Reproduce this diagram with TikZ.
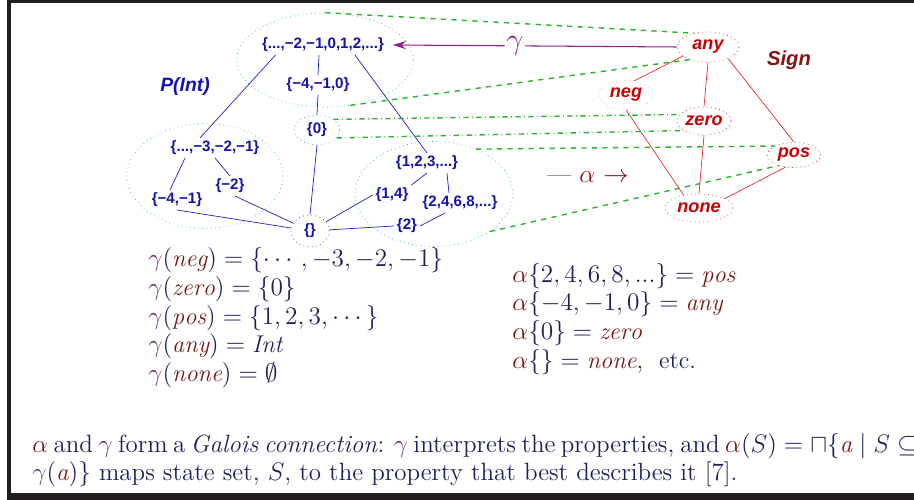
\documentclass[tikz,border=0pt]{standalone}
\usepackage{amsmath}
\usepackage{amssymb}
\usepackage{fontspec}
\newfontfamily\lblfont{Liberation Sans}
\usepackage{xcolor}
\usetikzlibrary{calc, arrows.meta, positioning, shapes.geometric}

\definecolor{setblue}{RGB}{20,20,170}
\definecolor{edgeblue}{RGB}{30,30,205}
\definecolor{regcyan}{RGB}{40,180,185}
\definecolor{gdash}{RGB}{45,180,45}
\definecolor{sgnred}{RGB}{200,0,0}
\definecolor{sgnline}{RGB}{235,40,40}
\definecolor{gpurple}{RGB}{145,30,145}
\definecolor{navy}{RGB}{30,30,95}
\definecolor{prop}{RGB}{120,20,20}
\definecolor{gam}{RGB}{105,45,115}
\definecolor{framec}{RGB}{35,31,32}

\newcommand{\gm}{{\color{gam}\gamma}}
\newcommand{\al}{{\color{prop}\alpha}}
\newcommand{\pr}[1]{{\color{prop}\mathit{#1}}}

\begin{document}
\begin{tikzpicture}[
                  x = 0.02cm, y = -0.02cm,
                  set/.style    = {font=\lblfont\bfseries\fontsize{8.6}{10}\selectfont, text=setblue, inner sep=1.5pt},
                  region/.style = {ellipse, draw=regcyan, dotted, thin, inner sep=0pt},
                  sgn/.style    = {ellipse, draw=sgnline, dotted, thin, inner sep=0pt, text=sgnred,
                                   font=\lblfont\bfseries\itshape\fontsize{10.3}{12}\selectfont},
                  sedge/.style  = {edgeblue, thin},
                  redge/.style  = {sgnline, thin},
                  gl/.style     = {gdash, dashed, thick},
                  gdl/.style    = {gdash, dash dot, thick},
                  garr/.style   = {-{Stealth[length=2.6mm, width=1.6mm]}, gpurple, semithick},
                  eq/.style     = {anchor=base west, inner sep=0pt, text=navy, font=\fontsize{13.8}{16}\selectfont}
            ]
            \useasboundingbox (0,0) rectangle (914,500);
            \clip (0,0) rectangle (914,500);

            % frame
            \fill[framec] (7,0) rectangle (914,3);
            \fill[framec] (7,0) rectangle (11,495);
            \fill[framec] (7,493) rectangle (914,500);

            % regions of P(Int)
            \node[region, minimum width=3.54cm, minimum height=1.88cm] (topreg)   at (325,60)  {};
            \node[region, minimum width=3.12cm, minimum height=2.1cm]  (leftreg)  at (205,176) {};
            \node[region, minimum width=3.16cm, minimum height=2.1cm]  (rightreg) at (434,194) {};

            % sets
            \node[set] (all)   at (323,45)  {\{...,−2,−1,0,1,2,...\}};
            \node[set] (mfz)   at (318,85)  {\{−4,−1,0\}};
            \node[set, region, minimum width=0.9cm, minimum height=0.6cm] (z) at (317,130) {\{0\}};
            \node[set] (negs)  at (215,148) {\{...,−3,−2,−1\}};
            \node[set] (m2)    at (230,186) {\{−2\}};
            \node[set] (m41)   at (177,200) {\{−4,−1\}};
            \node[set, ellipse, draw=edgeblue, dotted, inner sep=0pt,
                  minimum width=0.76cm, minimum height=0.64cm] (empty) at (310,231) {\{\}};
            \node[set] (poss)  at (427,163) {\{1,2,3,...\}};
            \node[set] (s14)   at (392,195) {\{1,4\}};
            \node[set] (evens) at (460,203) {\{2,4,6,8,...\}};
            \node[set] (s2)    at (407,226) {\{2\}};

            \node[text=setblue, font=\lblfont\bfseries\itshape\fontsize{11}{13}\selectfont] (pint) at (185,87) {P(Int)};

            \draw[sedge] ([xshift=-0.95cm]all.south) -- ([xshift=-0.3cm]negs.north);
            \draw[sedge] ([xshift=-0.08cm]all.south) -- (mfz.north);
            \draw[sedge] ([xshift=0.64cm]all.south) -- (poss.north);
            \draw[sedge] (mfz.south) -- (z.north);
            \draw[sedge] (z.south) -- (empty.north);
            \draw[sedge] ([xshift=-0.6cm]negs.south) -- ([xshift=-0.14cm]m41.north);
            \draw[sedge] (negs.south) -- (m2.north);
            \draw[sedge] (m41.south) -- (empty);
            \draw[sedge] ([xshift=0.1cm]m2.south) -- (empty);
            \draw[sedge] (s14.west) -- (empty);
            \draw[sedge] (s2.west) -- (empty);
            \draw[sedge] (poss.south) -- (s14.north east);
            \draw[sedge] ([xshift=0.4cm]poss.south) -- ([xshift=-0.22cm]evens.north);
            \draw[sedge] ([xshift=-0.3cm]evens.south) -- (s2.east);

            % Sign lattice
            \node[sgn, minimum width=1.24cm, minimum height=0.6cm]  (any)  at (708,47)  {any};
            \node[sgn, draw=sgnline!45, minimum width=1.08cm, minimum height=0.58cm] (neg) at (626,95) {neg};
            \node[sgn, minimum width=1.08cm, minimum height=0.56cm] (zero) at (704,121) {zero};
            \node[sgn, minimum width=1.06cm, minimum height=0.5cm]  (pos)  at (794,155) {pos};
            \node[sgn, minimum width=1.36cm, minimum height=0.56cm] (none) at (699,208) {none};

            \node[text=prop!90!red, font=\lblfont\bfseries\itshape\fontsize{11.5}{13}\selectfont] (signlbl) at (789,60) {Sign};

            \draw[redge] (any.200) -- (neg.60);
            \draw[redge] (any.south) -- (zero.north);
            \draw[redge] (any.-30) -- (pos.north);
            \draw[redge] (neg.south) -- (none.140);
            \draw[redge] (zero.south) -- (none.north);
            \draw[redge] (pos.235) -- (none.20);

            % concretization / abstraction
            \draw[gl]  (topreg.north) -- (any.135);
            \draw[gl]  (topreg.-61)   -- (any.215);
            \draw[gdl] (z.33)         -- (zero.165);
            \draw[gdl] (z.-22)        -- (zero.205);
            \draw[gl]  (rightreg.47)  -- (pos.155);
            \draw[gl]  (rightreg.-34) -- (pos.215);

            \draw[garr] (any.west) -- node[pos=0.57, fill=white, inner sep=1pt, text=gpurple,
                  font=\fontsize{17}{17}\selectfont] (glbl) {$\gamma$} ([xshift=0.12cm]all.east);
            \node[text=prop!85!red, font=\fontsize{14}{14}\selectfont] (alab) at (588,177) {--- $\alpha$ $\rightarrow$};

            % equations
            \node[eq] (g1) at (148,267) {$\gm(\pr{neg}) = \{\cdots, -3, -2, -1\}$};
            \node[eq] (g2) at (148,296) {$\gm(\pr{zero}) = \{0\}$};
            \node[eq] (g3) at (148,324) {$\gm(\pr{pos}) = \{1, 2, 3, \cdots\}$};
            \node[eq] (g4) at (148,353) {$\gm(\pr{any}) = \mathit{Int}$};
            \node[eq] (g5) at (148,381) {$\gm(\pr{none}) = \emptyset$};

            \node[eq] (a1) at (512,283) {$\al\{2, 4, 6, 8, ...\} = \pr{pos}$};
            \node[eq] (a2) at (512,311) {$\al\{-4, -1, 0\} = \pr{any}$};
            \node[eq] (a3) at (512,339) {$\al\{0\} = \pr{zero}$};
            \node[eq] (a4) at (512,368) {$\al\{\} = \pr{none}$,\ \ etc.};

            \node[eq, font=\fontsize{14.2}{16}\selectfont] (b1) at (32,452)
                  {\makebox[503pt][s]{$\al$ and $\gm$ form a \textit{Galois connection}: $\gm$ interprets the properties, and $\al(S) = \sqcap\{\pr{a} \mid S \subseteq$}};
            \node[eq, font=\fontsize{14.2}{16}\selectfont] (b2) at (32,480)
                  {$\gm(\pr{a})\}$ maps state set, $S$, to the property that best describes it [7].};
      \end{tikzpicture}
\end{document}
